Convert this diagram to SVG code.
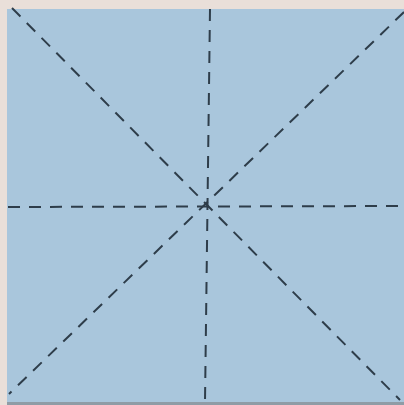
<svg xmlns="http://www.w3.org/2000/svg" width="404" height="405" viewBox="0 0 404 405">
<style>
.fold{stroke:#2e3d4a;stroke-width:2;stroke-dasharray:12 9;fill:none;stroke-linecap:butt}
</style>
<rect x="0" y="0" width="404" height="405" fill="#e9dfd9"/>
<rect id="paper" x="7" y="9" width="397" height="393" fill="#a9c6dc"/>
<rect x="7" y="402" width="397" height="3" fill="#8f9ca6"/>
<g id="folds">
<line class="fold" x1="210" y1="9" x2="205" y2="402"/>
<line class="fold" x1="8" y1="207" x2="404" y2="206"/>
<line class="fold" x1="12" y1="8" x2="400" y2="400"/>
<line class="fold" x1="404" y1="12" x2="9" y2="394"/>
</g>
</svg>
